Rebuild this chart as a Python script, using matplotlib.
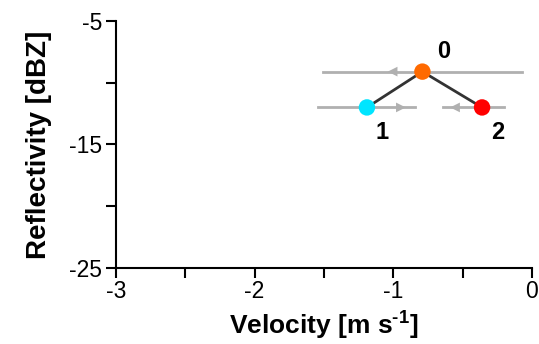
import matplotlib
matplotlib.use('Agg')
import matplotlib.pyplot as plt

plt.rcParams['font.family'] = ['Liberation Sans', 'DejaVu Sans']
plt.rcParams['axes.unicode_minus'] = False
# bold superscript in the x label
plt.rcParams['mathtext.fontset'] = 'custom'
plt.rcParams['mathtext.rm'] = 'Liberation Sans:bold'

# particle states: velocity [m/s], reflectivity [dBZ]
labels = ['0', '1', '2']
vel = [-0.79, -1.19, -0.36]
refl = [-9.1, -12.0, -12.0]
colors = ['#ff6a00', '#00e5ff', '#ff0000']

# grey spectral lines (start, end) and arrow positions/directions
line_x0 = [-1.51, -1.54, -0.64]
line_x1 = [-0.07, -0.84, -0.20]
arrow_x = [-1.0, -0.95, -0.55]
arrow_dir = [-1, 1, -1]

fig = plt.figure(figsize=(5.39, 3.44), dpi=100)
ax = fig.add_axes([0.215, 0.221, 0.772, 0.718])

grey = '#b0b0b0'
for i in range(3):
    ax.plot([line_x0[i], line_x1[i]], [refl[i], refl[i]], color=grey, lw=2, zorder=1)
    ax.annotate('', xy=(arrow_x[i] + arrow_dir[i] * 0.06, refl[i]),
                xytext=(arrow_x[i], refl[i]),
                arrowprops=dict(arrowstyle='-|>,head_length=0.7,head_width=0.35',
                                color=grey, lw=0), zorder=2)

# connections from state 0
for i in [1, 2]:
    ax.plot([vel[0], vel[i]], [refl[0], refl[i]], color='#333333', lw=2, zorder=3)

ax.scatter(vel, refl, s=140, c=colors, zorder=4, edgecolors='none')

offsets = [(0.15, 1.6), (0.11, -2.0), (0.11, -2.0)]
for i, lab in enumerate(labels):
    ax.text(vel[i] + offsets[i][0], refl[i] + offsets[i][1], lab,
            fontsize=17, fontweight='bold', ha='center', va='center')

ax.set_xlim(-3, 0)
ax.set_ylim(-25, -5)
ax.set_xticks([-3, -2, -1, 0])
ax.set_xticks([-2.5, -1.5, -0.5], minor=True)
ax.set_yticks([-25, -15, -5])
ax.set_yticks([-20, -10], minor=True)
ax.tick_params(which='both', direction='out', length=7, width=1.5, labelsize=16.5)
ax.tick_params(axis='x', pad=2)
ax.tick_params(axis='y', pad=3)
for s in ['top', 'right']:
    ax.spines[s].set_visible(False)
for s in ['left', 'bottom']:
    ax.spines[s].set_linewidth(1.5)

ax.set_xlabel('Velocity [m s$^{\\text{-1}}$]', fontsize=19, fontweight='bold', labelpad=3)
ax.set_ylabel('Reflectivity [dBZ]', fontsize=20, fontweight='bold', labelpad=12)

fig.savefig('out.png', dpi=100)
